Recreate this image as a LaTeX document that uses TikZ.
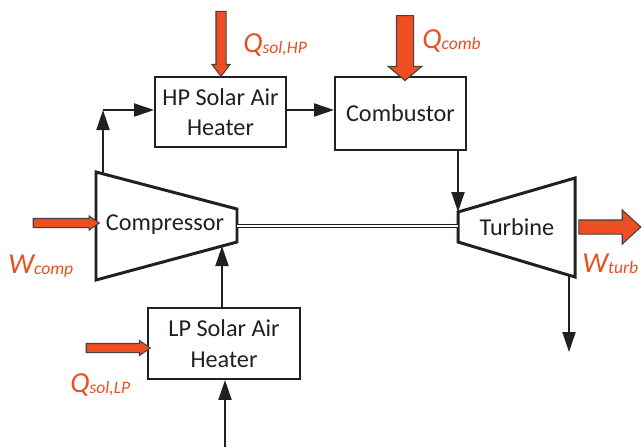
\documentclass[tikz,border=0pt]{standalone}
\usepackage{fontspec}
\setmainfont{Carlito}
\usepackage{tikz}
\usetikzlibrary{positioning,arrows.meta,calc,shapes.arrows}
\definecolor{cycRed}{HTML}{EE4E22}
\definecolor{cycText}{HTML}{E8501E}
\definecolor{cycInk}{HTML}{231F20}
\newcommand{\lowidx}[1]{\raisebox{-1pt}{\fontsize{10}{10}\selectfont #1}}
\tikzset{
  unitbox/.style={draw=cycInk,line width=1.1pt,align=center,text=cycInk,
    font=\fontsize{13.8}{17.4}\selectfont,inner sep=0pt},
  machine/.style={draw=cycInk,line width=1.7pt,line join=miter},
  machinelabel/.style={text=cycInk,font=\fontsize{13.8}{17.4}\selectfont,inner sep=0pt},
  flow/.style={-{Triangle[length=4mm,width=2.6mm]},line width=1.1pt,draw=cycInk},
  shaft/.style={draw=cycInk,line width=0.5pt,double=white,double distance=1.3pt},
  heatarrow/.style={single arrow,draw=cycInk!85,fill=cycRed,line width=0.6pt,
    inner sep=0pt,single arrow head indent=0pt},
  qlabel/.style={text=cycText,font=\fontsize{16.5}{18}\selectfont\itshape,
    inner sep=0pt,anchor=base west}
}

\begin{document}
\begin{tikzpicture}[x=0.02cm,y=-0.02cm]
  \useasboundingbox (0,0) rectangle (644,447);

  % heaters and combustor
  \node[unitbox, minimum width=2.62cm, minimum height=1.4cm] (hp) at (220.5,112) {HP Solar Air\\Heater};
  \node[unitbox, minimum width=2.62cm, minimum height=1.46cm] (comb) at (400.5,113.5) {Combustor};
  \node[unitbox, minimum width=3.04cm, minimum height=1.42cm] (lp) at (224,343.5) {LP Solar Air\\Heater};

  % compressor and turbine
  \coordinate (ctl) at (96,172);
  \coordinate (ctr) at (237,209);
  \coordinate (cbr) at (237,242);
  \coordinate (cbl) at (96,280);
  \coordinate (ttl) at (458,212);
  \coordinate (ttr) at (575,178);
  \coordinate (tbr) at (575,277);
  \coordinate (tbl) at (458,242);
  \draw[machine] (ctl) -- (ctr) -- (cbr) -- (cbl) -- cycle;
  \draw[machine] (ttl) -- (ttr) -- (tbr) -- (tbl) -- cycle;
  \node[machinelabel] (comp) at (165,225) {Compressor};
  \node[machinelabel] (turb) at (517,227) {Turbine};

  % shaft
  \coordinate (compout) at (237,226);
  \coordinate (turbin) at (458,226);
  \draw[shaft] (compout) -- (turbin);

  % air path
  \coordinate (comptop) at (103,174);
  \coordinate (split) at (103,110);
  \coordinate (compin) at (222,246);
  \coordinate (airin) at (225,447);
  \coordinate (turbout) at (569,275);
  \coordinate (exhaust) at (569,352);
  \draw[flow] (comptop) -- (split);
  \draw[flow] (split) -- (split -| hp.west);
  \draw[flow] (split -| hp.east) -- (split -| comb.west);
  \draw[flow] (ttl |- comb.south) -- (ttl);
  \draw[flow] (compin |- lp.north) -- (compin);
  \draw[flow] (airin) -- (airin |- lp.south);
  \draw[flow] (turbout) -- (exhaust);

  % heat and work
  \node[heatarrow, minimum height=1.3cm, inner ysep=0.09cm, single arrow head extend=0.08cm,
    single arrow tip angle=75, rotate=-90] (qhp) at (221,40.5) {};
  \node[heatarrow, minimum height=1.3cm, inner ysep=0.16cm, single arrow head extend=0.17cm,
    single arrow tip angle=100, rotate=-90] (qcomb) at (405,44.5) {};
  \node[heatarrow, minimum height=1.32cm, inner ysep=0.08cm, single arrow head extend=0.05cm,
    single arrow tip angle=70] (wcomp) at (63,223) {};
  \node[heatarrow, minimum height=1.28cm, inner ysep=0.08cm, single arrow head extend=0.06cm,
    single arrow tip angle=70] (qlp) at (115,348) {};
  \node[heatarrow, minimum height=1.24cm, inner ysep=0.13cm, single arrow head extend=0.2cm,
    single arrow tip angle=85] (wturb) at (606,227) {};

  \node[qlabel] (qhplabel) at (243,52) {Q\lowidx{sol,HP}};
  \node[qlabel] (qcomblabel) at (422,48) {Q\lowidx{comb}};
  \node[qlabel] (wcomplabel) at (8,273) {W\lowidx{comp}};
  \node[qlabel] (wturblabel) at (582,272) {W\lowidx{turb}};
  \node[qlabel] (qlplabel) at (70,392) {Q\lowidx{sol,LP}};
\end{tikzpicture}
\end{document}
